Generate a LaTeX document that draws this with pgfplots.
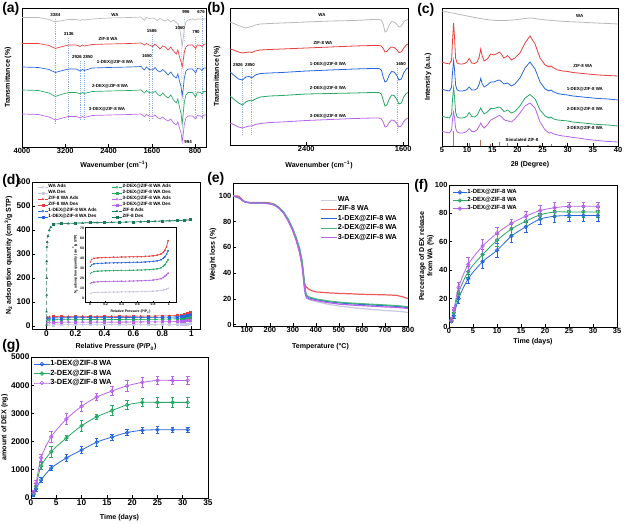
\documentclass[border=0pt]{standalone}
\usepackage{pgfplots}
\pgfplotsset{compat=1.18}
\usepackage{pgfplotstable}
\usepackage{fontspec}
\setmainfont{Liberation Sans}
\definecolor{cWA}{RGB}{185,185,185}
\definecolor{cWAl}{RGB}{200,200,228}
\definecolor{cRed}{RGB}{232,62,62}
\definecolor{cBlue}{RGB}{38,102,222}
\definecolor{cGreen}{RGB}{40,168,100}
\definecolor{cPurple}{RGB}{182,100,232}
\definecolor{cTeal}{RGB}{28,122,92}
\definecolor{cBrown}{RGB}{176,116,86}
\definecolor{cDash}{RGB}{140,172,228}
\newcommand\tf{\bfseries\fontsize{5.6}{6}\selectfont}
\newcommand\tfb{\bfseries\fontsize{6.2}{7}\selectfont}
\newcommand\lf{\bfseries\fontsize{5.3}{6.2}\selectfont}
\newcommand\cf{\bfseries\fontsize{3.3}{4}\selectfont}
\newcommand\pf{\bfseries\fontsize{10.5}{11}\selectfont}
\pgfplotsset{
  panel/.style={scale only axis, anchor=north west, axis line style={line width=0.6pt},
    tick style={line width=0.5pt, black}, tick align=inside, major tick length=2pt,
    tick pos=left, ticklabel style={font=\tf, inner sep=1pt}, label style={font=\lf},
    /pgf/number format/assume math mode=true, /pgf/number format/1000 sep={},
    legend cell align=left, clip=true},
  xl/.style={xlabel style={at={(axis description cs:0.5,#1)}, anchor=center}},
  yl/.style={ylabel style={at={(axis description cs:#1,0.5)}, anchor=center}},
  dl/.style={cDash, densely dotted, line width=0.45pt},
  eb/.style={error bars/.cd, y dir=both, y explicit, error bar style={line width=0.45pt},
    error mark options={rotate=90, mark size=1.3pt, line width=0.45pt}},
}
% ---------------- FTIR (a) ----------------
\pgfplotstableread{
w WA ZW D1 D2 D3
4000 132.5 106.5 83 60 36
3700 132.5 106.5 82.5 59.5 35.5
3500 130.5 104.5 80.5 57 33
3384 128 101.5 77.5 53.5 30
3250 129.5 103.5 79.5 56 32
3136 130.5 105 81 57.5 33.5
3000 130.5 105 81 57.5 33.5
2926 129.5 103.5 79 56 32
2880 130.5 105 80.5 57.5 33.5
2850 130 104 79.5 56.5 32.5
2700 131 105.5 82 58.5 34.5
2400 132 106 82.5 59 35
2000 132.5 106.5 83 59.5 35.5
1800 133 107 83.5 60 36
1740 129.5 105 80 57 33.5
1700 132.5 106.5 83 59.5 35.5
1650 131.5 105 80.5 57.5 34
1586 132 103.5 80 57 33.5
1540 131 106 82.5 59 35
1500 129.5 104 79.5 56 32.5
1450 131.5 101 78 54 31
1400 130 104 80.5 57 33
1350 129 103 78 54 30.5
1300 130.5 100 75 52 29
1250 128 103 78 55 31
1200 130 99 74 50 27
1150 127.5 96 72 47 25
1120 126.5 100 76 51 28
1090 122 93 69 43 22
1060 112 88 63 36 17
1040 104 83 54 26 8
1020 112 90 62 37 16
1000 122 98 72 48 26
970 128 103 79 55 32
930 130 105 81 57.5 34
850 131 105 81 57.5 34
790 130 101.5 77 53 31
760 131 105 81.5 58 34.5
700 131 104.5 81 57.5 34
676 130.5 103.5 79.5 56 33
640 131 105.5 82 58.5 35
600 131 106 82 58.5 35
}\ftira
% ---------------- FTIR (b) ----------------
\pgfplotstableread{
w WA ZW D1 D2 D3
3030 123 96 73 49 22
3000 121.5 95 70 46 20.5
2960 119.5 93 66 42 18
2926 118 92 65 40 17
2900 117 92.5 68 43 18
2870 118 93 68.5 44.5 19
2850 118.5 92.5 67 44 19
2820 120 94 70 46 20.5
2780 121 95 71.5 48 21.5
2700 121.5 95.5 72 49 22.5
2600 122 96 72.5 49.5 23
2400 123 97 74 51 24.5
2200 124 98 75 51.5 25.5
2000 124.5 99 76 52 26.5
1850 125.5 99.5 76.5 52.5 27
1800 125.5 99.5 76.5 52.5 27
1780 125 99 75 51 26
1765 121 96.5 68 45 23
1750 113 93 63 39 18
1735 114 93.5 64 40 18.5
1715 120 96.5 70 46 22.5
1695 123.5 98 73.5 50 25
1675 123 97.5 73 49.5 24.5
1655 121 95.5 70 46 22
1635 118 92.5 65 41 18
1615 119 93 66 42 19
1595 123 97 72 48 23.5
1575 125 100 76 51.5 26
1560 125.5 101 77 52.5 27
}\ftirb
% ---------------- XRD (c) ----------------
\pgfplotstableread{
t WA ZW D1 D2 D3
5 135 84 57 30 15
5.5 134.5 83 56 29 14
6 134 82.5 55.5 28.5 13.5
6.5 133.5 82 55 28 13
6.9 133 86 59 32 16
7.1 133 106 74 47 27
7.3 132.8 123 85 58 34
7.5 132.6 108 76 49 28
7.7 132.4 88 61 34 18
8 132 83 56 29 14
8.5 131.5 82 55 28 13
9 131 82 55 28 13
9.5 130.5 82.5 55.5 28.5 13.5
10 130 84 56.5 30 15
10.2 129.8 86 58 32 16.5
10.4 129.6 87.5 59 33.5 17.5
10.6 129.4 86 58 32 16.5
10.9 129.1 83 56 29.5 14.5
11.5 128.5 82.5 56 29 14.5
12 128 84 57.5 31 16.5
12.4 127.7 89 62 35 20
12.7 127.4 97 67.5 38 23
13 127.1 90 62 35 20
13.4 126.8 85 59 32 18
14 126.4 87 61 34 21
14.7 126 92 64 37.5 26
15.3 125.7 91 64 37.5 27.5
16 125.5 92.5 65.5 38.5 29.5
16.4 125.4 94 66 39 30.5
16.8 125.4 92 64.5 37.5 29.5
17.3 125.4 88 62 34.5 26.5
17.7 125.5 89 62.5 35 25.5
18 125.6 90.5 63 36 25.5
18.3 125.7 89 62 35 24.5
18.8 125.9 86 60 33 24
19.5 126.2 88 62 34.5 27
20.5 126.8 93 68 40 33
21.5 127.5 103 78 48 40
22.5 128 110 84 51.5 43
23.5 127.5 102 77 47 38
24.5 126.7 88 64 36 24
25.5 126.2 81 57 30 16
26.3 125.8 79 55 28 13
26.7 125.6 80 56 29 13.5
27.2 125.4 78 54 27 12
28 125 76 52.5 26 11
29 124.7 75 51.5 25.5 10
30 124.4 74.5 51 25 9.5
31 124.2 73.5 50 24 8.5
32 124 73 49.5 23.5 8
34 123.4 72 48.5 22.5 6.5
36 122.9 71 47.5 21.5 5.5
38 122.5 70.5 47 21 4.5
40 122 70 46 20 4
}\xrd
% ---------------- N2 (d) ----------------
\pgfplotstableread{
p WA ZW D1 D2 D3
0.005 4.5 36 31.5 24.5 14.5
0.02 5 38.5 33 25.5 15.3
0.05 5.3 39.5 34 26.3 15.8
0.1 5.5 40 34.4 26.7 16.1
0.15 5.6 40.2 34.6 27 16.3
0.2 5.7 40.4 34.8 27.1 16.4
0.25 5.8 40.5 35 27.2 16.5
0.3 5.8 40.6 35 27.3 16.5
0.35 5.9 40.7 35.1 27.4 16.6
0.4 6.0 40.8 35.2 27.5 16.6
0.45 6.0 40.9 35.3 27.5 16.7
0.5 6.1 41 35.4 27.6 16.8
0.55 6.1 41 35.5 27.7 16.9
0.6 6.2 41.1 35.6 27.8 17
0.65 6.3 41.2 35.7 27.9 17.1
0.7 6.4 41.4 35.9 28 17.3
0.75 6.5 41.6 36.1 28.2 17.5
0.8 6.7 42 36.4 28.5 17.8
0.85 7.0 42.6 37 29 18.3
0.9 7.4 43.8 38 30 19.2
0.93 7.8 45.5 39.5 31.5 20.3
0.95 8.2 47.5 41 33 21.5
0.97 8.8 51 43.5 35.5 23
0.99 9.6 57 47 38 24.5
}\adsT
\pgfplotstableread{
p WA ZW D1 D2 D3
0.99 9.8 57.5 47.5 38.5 25
0.97 9.0 51.5 44 36 23.5
0.95 8.4 48 41.5 33.5 22
0.93 8.0 46 40 32 20.8
0.9 7.6 44.2 38.4 30.4 19.6
0.85 7.2 43 37.4 29.4 18.7
0.8 6.9 42.4 36.8 28.8 18.1
0.7 6.6 41.8 36.2 28.3 17.6
0.6 6.4 41.5 35.9 28.0 17.3
0.5 6.3 41.3 35.7 27.8 17.0
0.4 6.2 41.1 35.5 27.7 16.9
0.3 6.0 40.9 35.3 27.5 16.8
0.2 5.9 40.7 35.1 27.3 16.6
0.1 5.7 40.3 34.7 27.0 16.3
0.05 5.5 39.8 34.3 26.6 16.0
}\desT
\pgfplotstableread{
p v
0 5
0.0005 60
0.001 130
0.0015 200
0.002 270
0.003 330
0.005 350
0.01 375
0.02 400
0.03 412
0.05 424
0.1 426
0.15 427
0.2 428
0.25 429
0.3 430
0.35 430.5
0.4 431
0.45 431.5
0.5 432
0.55 432.5
0.6 433
0.65 434
0.7 435
0.75 436
0.8 437
0.85 438
0.9 439
0.95 440
0.99 442
}\zifA
\pgfplotstableread{
p v
0.99 443
0.95 441
0.9 440
0.8 438
0.7 436
0.6 434
0.5 433
0.4 432
0.3 431
0.2 429
0.1 427
0.05 425
}\zifD
% ---------------- TGA (e) ----------------
\pgfplotstableread{
T WA ZW D1 D2 D3
40 100 100 100 100 100
50 99.5 100 99.5 99.5 99.5
60 99 100 99 99 99
70 98 99 98 98 98
80 96.5 97 96.5 96.5 96.5
90 95.5 95.5 95.5 95.5 95.5
100 95 95 95 95 95
120 94.5 94.8 94.5 94.6 94.5
150 94.5 94.8 94.5 94.6 94.5
180 94.3 94.8 94.3 94.4 94.2
200 94 94.5 94 94.2 93.8
220 93 93.5 93 93.3 92.8
240 90.5 91 90.5 91 90.3
260 86.5 87 87 87.5 86.5
280 80.5 81 81 82 80.5
300 72.5 73 73.5 74.5 73
315 65 66 66 67.5 65.5
330 55 56 57 59 56
340 45 47 48 50 46
345 37 40 40 42 38
350 28 33 31 32 29
355 22.5 30 25 25.5 23
360 20.5 29 22.5 23 21
370 19.5 27.5 21 21.5 20
380 19 26.5 20.5 21 19.5
400 18 25.5 19.5 20 18.8
450 16 24.8 18 18.5 17.2
500 14.5 24.3 17 17.5 16
550 13.5 24 16.3 16.8 15.3
600 12.5 23.6 15.8 16.3 14.8
650 11.8 23.4 15.3 15.8 14.3
700 11 23.2 14.8 15.3 13.8
750 10.5 22.8 14.3 14.8 13.4
780 10 21.5 13.8 14.3 13
800 9.5 20.3 13.2 13.8 12.5
}\tga
% ---------------- release (f) ----------------
\pgfplotstableread{
t a ea b eb c ec
0.5 4 1 4.5 1.5 5 1.5
1 8 2 10 2 12 2
2 20 3 24 3 28 3.5
4 34 3 39 4 44 5
7 46 5 51 4 57 5
10 54 5 61 4 66 4
13 64 4.5 69 3.5 73 3
16 70.5 3.5 74.5 3.5 78 3.5
19 76 4 79 3.5 82 4
22 78 4 81 3.5 84 3.5
25 78.5 4 81 3.5 85 3
28 78.5 4 81 3.5 85 3
31 78.5 4 81 3.5 85 3
}\relf
% ---------------- amount (g) ----------------
\pgfplotstableread{
t a ea b eb c ec
0.5 120 60 170 60 200 60
1 330 100 420 100 520 120
2 640 100 1130 120 1430 130
4 1060 90 1640 180 2170 200
7 1420 120 2130 80 2800 200
10 1700 130 2560 200 3250 170
13 1980 130 2880 100 3580 120
16 2160 100 3100 170 3790 160
19 2320 100 3300 150 3980 200
22 2400 100 3390 150 4100 170
25 2420 110 3390 170 4170 150
28 2420 100 3390 170 4170 150
31 2420 100 3390 170 4170 150
}\amtg
\begin{document}
\begin{tikzpicture}
\path[use as bounding box] (0,0) rectangle (468pt,393pt);
% ===== (a) =====
\begin{axis}[panel, at={(16.5pt,387pt)}, width=138pt, height=104.25pt,
  x dir=reverse, xmin=600, xmax=4000, ymin=3, ymax=142,
  xtick={4000,3200,2400,1600,800}, ytick=\empty,
  xlabel={Wavenumber (cm\textsuperscript{−1})}, ylabel={Transmittance (\%)},
  xl=-0.13, yl=-0.076]
\addplot[dl] coordinates {(3384,131) (3384,26)};
\addplot[dl] coordinates {(3136,112) (3136,30)};
\addplot[dl] coordinates {(2926,89) (2926,30)};
\addplot[dl] coordinates {(2850,89) (2850,30)};
\addplot[dl] coordinates {(1650,90) (1650,30)};
\addplot[dl] coordinates {(1586,115) (1586,30)};
\addplot[dl] coordinates {(1060,117) (1040,12)};
\addplot[dl] coordinates {(996,133) (1030,10)};
\addplot[dl] coordinates {(790,113) (790,30)};
\addplot[dl] coordinates {(676,134) (676,30)};
\addplot[cWA, line width=0.5pt] table[x=w,y=WA]{\ftira};
\addplot[cRed, line width=0.5pt] table[x=w,y=ZW]{\ftira};
\addplot[cBlue, line width=0.5pt] table[x=w,y=D1]{\ftira};
\addplot[cGreen, line width=0.5pt] table[x=w,y=D2]{\ftira};
\addplot[cPurple, line width=0.5pt] table[x=w,y=D3]{\ftira};
\node[font=\cf] at (axis cs:3384,135) {3384};
\node[font=\cf] at (axis cs:3136,116) {3136};
\node[font=\cf] at (axis cs:2983,93) {2926};
\node[font=\cf] at (axis cs:2780,93) {2850};
\node[font=\cf] at (axis cs:1690,94) {1650};
\node[font=\cf] at (axis cs:1600,119) {1586};
\node[font=\cf] at (axis cs:1080,122) {1060};
\node[font=\cf] at (axis cs:970,138) {996};
\node[font=\cf] at (axis cs:785,118) {790};
\node[font=\cf] at (axis cs:690,138) {676};
\node[font=\cf] at (axis cs:930,8) {994};
\node[font=\cf] at (axis cs:2281,135) {WA};
\node[font=\cf] at (axis cs:2410,111) {ZIF-8 WA};
\node[font=\cf] at (axis cs:2281,88) {1-DEX@ZIF-8 WA};
\node[font=\cf] at (axis cs:2373,64) {2-DEX@ZIF-8 WA};
\node[font=\cf] at (axis cs:2429,41) {3-DEX@ZIF-8 WA};
\end{axis}
% ===== (b) =====
\begin{axis}[panel, at={(172.5pt,387pt)}, width=133.5pt, height=102.75pt,
  x dir=reverse, xmin=1560, xmax=3030, ymin=0, ymax=137,
  xtick={2400,1600}, ytick=\empty,
  xlabel={Wavenumber (cm\textsuperscript{−1})}, ylabel={Transmittance (\%)},
  xl=-0.146, yl=-0.073]
\addplot[dl] coordinates {(2926,77) (2926,10)};
\addplot[dl] coordinates {(2850,77) (2850,10)};
\addplot[dl] coordinates {(1650,77) (1650,13)};
\addplot[cWA, line width=0.6pt] table[x=w,y=WA]{\ftirb};
\addplot[cRed, line width=0.6pt] table[x=w,y=ZW]{\ftirb};
\addplot[cBlue, line width=0.6pt] table[x=w,y=D1]{\ftirb};
\addplot[cGreen, line width=0.6pt] table[x=w,y=D2]{\ftirb};
\addplot[cPurple, line width=0.6pt] table[x=w,y=D3]{\ftirb};
\node[font=\cf] at (axis cs:2964,80) {2926};
\node[font=\cf] at (axis cs:2865,80) {2850};
\node[font=\cf] at (axis cs:1618,81) {1650};
\node[font=\cf] at (axis cs:2270,130) {WA};
\node[font=\cf] at (axis cs:2262,102) {ZIF-8 WA};
\node[font=\cf] at (axis cs:2221,81) {1-DEX@ZIF-8 WA};
\node[font=\cf] at (axis cs:2221,57) {2-DEX@ZIF-8 WA};
\node[font=\cf] at (axis cs:2221,29) {3-DEX@ZIF-8 WA};
\end{axis}
% ===== (c) =====
\begin{axis}[panel, at={(331.5pt,387pt)}, width=132pt, height=103.5pt,
  xmin=5, xmax=40, ymin=0, ymax=138, xtick={5,10,...,40}, ytick=\empty,
  xlabel={2θ (Degree)}, ylabel={Intensity (a.u.)},
  xl=-0.138, yl=-0.08]
\addplot[ycomb, cBrown, line width=0.9pt] coordinates {(7.3,15) (10.4,3) (12.7,6) (14.7,2) (16.4,4) (18,3) (22.1,1) (24.5,1) (26.7,2) (29.6,1)};
\addplot[cWA, line width=0.6pt] table[x=t,y=WA]{\xrd};
\addplot[cRed, line width=0.6pt] table[x=t,y=ZW]{\xrd};
\addplot[cBlue, line width=0.6pt] table[x=t,y=D1]{\xrd};
\addplot[cGreen, line width=0.6pt] table[x=t,y=D2]{\xrd};
\addplot[cPurple, line width=0.6pt] table[x=t,y=D3]{\xrd};
\node[font=\cf] at (axis cs:32.4,130) {WA};
\node[font=\cf] at (axis cs:33,80) {ZIF-8 WA};
\node[font=\cf] at (axis cs:33.4,57) {1-DEX@ZIF-8 WA};
\node[font=\cf] at (axis cs:33.4,37) {2-DEX@ZIF-8 WA};
\node[font=\cf] at (axis cs:33.4,18) {3-DEX@ZIF-8 WA};
\node[font=\cf] at (axis cs:20.9,6) {Simulated ZIF-8};
\end{axis}
% ===== (d) =====
\begin{axis}[panel, at={(24pt,256.5pt)}, width=126pt, height=110.25pt,
  xmin=-0.1, xmax=1.06, ymin=-12, ymax=600,
  xtick={0,0.2,0.4,0.6,0.8,1}, ytick={0,100,...,600},
  ticklabel style={font=\tfb},
  xlabel={Relative Pressure (P/P\textsubscript{0})},
  ylabel={N\textsubscript{2} adsorption quantity (cm\textsuperscript{3}/g STP)},
  xl=-0.122, yl=-0.14,
  legend columns=2,
  legend style={at={(0.03,0.99)}, anchor=north west, draw=none, fill=none,
    font=\bfseries\fontsize{3.5}{4}\selectfont, inner sep=0.3pt, row sep=0pt,
    nodes={inner sep=0.25pt},
    /tikz/every even column/.append style={column sep=11pt}},
  legend image code/.code={\draw[mark repeat=2,mark phase=2,#1] plot coordinates {(0cm,0cm) (0.13cm,0cm) (0.26cm,0cm)};},
  every axis plot/.append style={line width=0.4pt, mark size=0.75pt}]
\addplot[cWAl, densely dashed, mark=o, mark options={solid}] table[x=p,y=WA]{\adsT};
\addlegendentry{WA Ads}
\addplot[cGreen, densely dashed, mark=o, mark options={solid}] table[x=p,y=D2]{\adsT};
\addlegendentry{2-DEX@ZIF-8 WA Ads}
\addplot[cWAl, mark=square*] table[x=p,y=WA]{\desT};
\addlegendentry{WA Des}
\addplot[cGreen, mark=square*] table[x=p,y=D2]{\desT};
\addlegendentry{2-DEX@ZIF-8 WA Des}
\addplot[cRed, densely dashed, mark=triangle, mark options={solid}] table[x=p,y=ZW]{\adsT};
\addlegendentry{ZIF-8 WA Ads}
\addplot[cPurple, densely dashed, mark=o, mark options={solid}] table[x=p,y=D3]{\adsT};
\addlegendentry{3-DEX@ZIF-8 WA Ads}
\addplot[cRed, mark=square*] table[x=p,y=ZW]{\desT};
\addlegendentry{ZIF-8 WA Des}
\addplot[cPurple, mark=square*] table[x=p,y=D3]{\desT};
\addlegendentry{3-DEX@ZIF-8 WA Des}
\addplot[cBlue, densely dashed, mark=o, mark options={solid}] table[x=p,y=D1]{\adsT};
\addlegendentry{1-DEX@ZIF-8 WA Ads}
\addplot[cTeal, densely dashed, mark=triangle*, mark options={solid}] table[x=p,y=v]{\zifA};
\addlegendentry{ZIF-8 Ads}
\addplot[cBlue, mark=square*] table[x=p,y=D1]{\desT};
\addlegendentry{1-DEX@ZIF-8 WA Des}
\addplot[cTeal, mark=square*] table[x=p,y=v]{\zifD};
\addlegendentry{ZIF-8 Des}
\end{axis}
% inset
\begin{axis}[panel, at={(63.75pt,222.75pt)}, width=68.25pt, height=56.25pt,
  axis background/.style={fill=white}, axis line style={line width=0.4pt},
  xmin=-0.063, xmax=1.09, ymin=-4, ymax=71,
  xtick={0,0.2,0.4,0.6,0.8,1}, ytick={0,10,...,70}, major tick length=1pt,
  ticklabel style={font=\bfseries\fontsize{2.6}{3}\selectfont, inner sep=0.6pt},
  label style={font=\bfseries\fontsize{2.6}{3}\selectfont},
  xlabel={Relative Pressure (P/P\textsubscript{0})},
  ylabel={N\textsubscript{2} adsorption quantity (cm\textsuperscript{3}/g STP)},
  xl=-0.13, yl=-0.11,
  every axis plot/.append style={line width=0.3pt, mark size=0.35pt}]
\addplot[cWAl, mark=*] table[x=p,y=WA]{\adsT};
\addplot[cWAl, mark=*] table[x=p,y=WA]{\desT};
\addplot[cRed, mark=*] table[x=p,y=ZW]{\adsT};
\addplot[cRed, mark=*] table[x=p,y=ZW]{\desT};
\addplot[cBlue, mark=*] table[x=p,y=D1]{\adsT};
\addplot[cBlue, mark=*] table[x=p,y=D1]{\desT};
\addplot[cGreen, mark=*] table[x=p,y=D2]{\adsT};
\addplot[cGreen, mark=*] table[x=p,y=D2]{\desT};
\addplot[cPurple, mark=*] table[x=p,y=D3]{\adsT};
\addplot[cPurple, mark=*] table[x=p,y=D3]{\desT};
\end{axis}
% ===== (e) =====
\begin{axis}[panel, at={(174.75pt,255.75pt)}, width=131.25pt, height=107.25pt,
  xmin=40, xmax=800, ymin=-1, ymax=110, xtick={100,200,...,800}, ytick={0,20,...,100},
  xlabel={Temperature (°C)}, ylabel={Weight loss (\%)},
  xl=-0.147, yl=-0.114,
  legend style={at={(0.497,0.91)}, anchor=north west, draw=none, fill=none,
    font=\bfseries\fontsize{5.4}{6}\selectfont, inner sep=0pt, row sep=0.9pt,
    nodes={inner sep=0.4pt}},
  legend image code/.code={\draw[#1] (0cm,0cm) -- (0.42cm,0cm);},
  every axis plot/.append style={line width=0.9pt}]
\addplot[cWAl] table[x=T,y=WA]{\tga};\addlegendentry{WA}
\addplot[cRed!85] table[x=T,y=ZW]{\tga};\addlegendentry{ZIF-8 WA}
\addplot[cBlue] table[x=T,y=D1]{\tga};\addlegendentry{1-DEX@ZIF-8 WA}
\addplot[cGreen!85] table[x=T,y=D2]{\tga};\addlegendentry{2-DEX@ZIF-8 WA}
\addplot[cPurple] table[x=T,y=D3]{\tga};\addlegendentry{3-DEX@ZIF-8 WA}
\end{axis}
% ===== (f) =====
\begin{axis}[panel, at={(336.75pt,254.25pt)}, width=126pt, height=106.5pt,
  xmin=0, xmax=35, ymin=0, ymax=100, xtick={0,5,...,35}, ytick={0,20,...,100},
  xlabel={Time (days)}, ylabel={Percentage of DEX release\\from WA (\%)},
  ylabel style={align=center}, xl=-0.1, yl=-0.135,
  legend style={at={(0.02,0.975)}, anchor=north west, draw=none, fill=none,
    font=\bfseries\fontsize{4.5}{5}\selectfont, inner sep=0pt, row sep=0.8pt,
    nodes={inner sep=0.3pt}},
  legend image code/.code={\draw[mark repeat=2,mark phase=2,#1] plot coordinates {(0cm,0cm) (0.18cm,0cm) (0.36cm,0cm)};},
  every axis plot/.append style={line width=0.6pt, mark size=1.3pt, mark=o, smooth}]
\addplot[cBlue, eb] table[x=t,y=a,y error=ea]{\relf};\addlegendentry{1-DEX@ZIF-8 WA}
\addplot[cGreen, eb] table[x=t,y=b,y error=eb]{\relf};\addlegendentry{2-DEX@ZIF-8 WA}
\addplot[cPurple, eb] table[x=t,y=c,y error=ec]{\relf};\addlegendentry{3-DEX@ZIF-8 WA}
\end{axis}
% ===== (g) =====
\begin{axis}[panel, at={(23.25pt,125.25pt)}, width=132.75pt, height=105.75pt,
  xmin=0, xmax=35, ymin=0, ymax=5000, xtick={0,5,...,35}, ytick={0,1000,...,5000},
  ticklabel style={font=\tfb},
  xlabel={Time (days)}, ylabel={amount of DEX (ng)},
  xl=-0.142, yl=-0.15,
  legend style={at={(0.015,0.98)}, anchor=north west, draw=none, fill=none,
    font=\bfseries\fontsize{5.6}{6.2}\selectfont, inner sep=0pt, row sep=1pt,
    nodes={inner sep=0.3pt}},
  legend image code/.code={\draw[mark repeat=2,mark phase=2,#1] plot coordinates {(0cm,0cm) (0.2cm,0cm) (0.4cm,0cm)};},
  every axis plot/.append style={line width=0.6pt, mark size=1.3pt, mark=o, smooth}]
\addplot[cBlue, eb] table[x=t,y=a,y error=ea]{\amtg};\addlegendentry{1-DEX@ZIF-8 WA}
\addplot[cGreen, eb] table[x=t,y=b,y error=eb]{\amtg};\addlegendentry{2-DEX@ZIF-8 WA}
\addplot[cPurple, eb] table[x=t,y=c,y error=ec]{\amtg};\addlegendentry{3-DEX@ZIF-8 WA}
\end{axis}
% panel letters
\node[anchor=north west, inner sep=0pt, font=\pf] at (1.5pt,391.5pt) {(a)};
\node[anchor=north west, inner sep=0pt, font=\pf] at (155.25pt,391.5pt) {(b)};
\node[anchor=north west, inner sep=0pt, font=\pf] at (312.75pt,390.75pt) {(c)};
\node[anchor=north west, inner sep=0pt, font=\pf] at (1.5pt,262.5pt) {(d)};
\node[anchor=north west, inner sep=0pt, font=\pf] at (155.25pt,264pt) {(e)};
\node[anchor=north west, inner sep=0pt, font=\pf] at (310.5pt,258.75pt) {(f)};
\node[anchor=north west, inner sep=0pt, font=\pf] at (1.5pt,138.75pt) {(g)};
\end{tikzpicture}
\end{document}
